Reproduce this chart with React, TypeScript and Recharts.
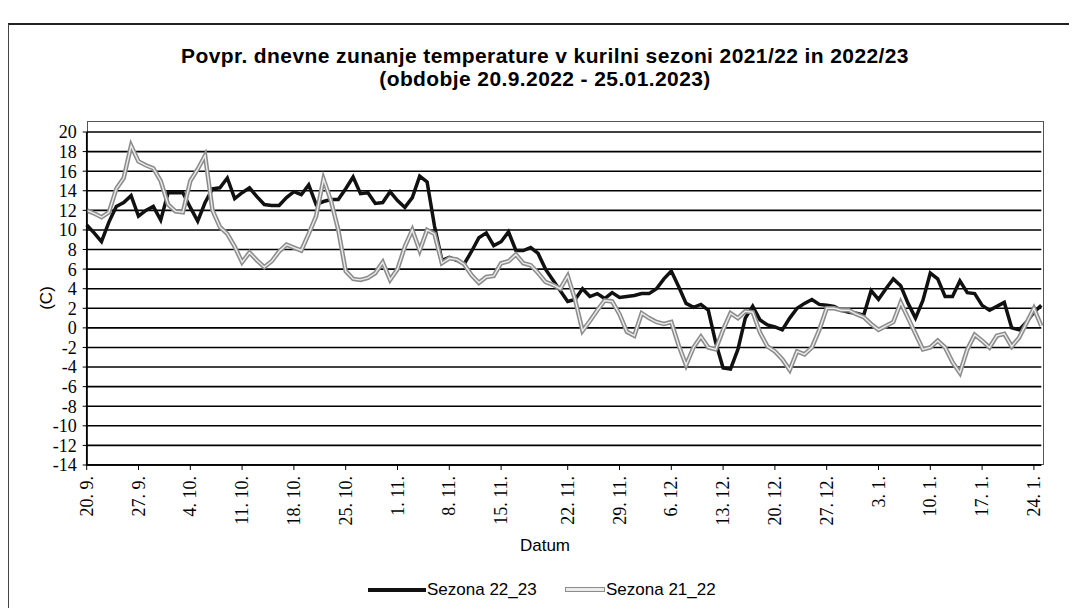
import React from "react";
import { LineChart, Line, XAxis, YAxis, CartesianGrid } from "recharts";

// Day index positions of the labelled ticks (the source has 9 slots between 15. 11. and 22. 11.)
const tickIdx = [0, 7, 14, 21, 28, 35, 42, 49, 56, 65, 72, 79, 86, 93, 100, 107, 114, 121, 128];
const tickLabels = [
  "20. 9.", "27. 9.", "4. 10.", "11. 10.", "18. 10.", "25. 10.", "1. 11.", "8. 11.", "15. 11.",
  "22. 11.", "29. 11.", "6. 12.", "13. 12.", "20. 12.", "27. 12.", "3. 1.", "10. 1.", "17. 1.", "24. 1.",
];
const yTicks = [-14, -12, -10, -8, -6, -4, -2, 0, 2, 4, 6, 8, 10, 12, 14, 16, 18, 20];

const sezona2223 = [
  10.5, 9.7, 8.8, 10.8, 12.4, 12.8, 13.5, 11.4, 12.0, 12.4,
  11.0, 13.8, 13.8, 13.8, 12.3, 10.9, 12.8, 14.2, 14.3, 15.3,
  13.2, 13.8, 14.3, 13.4, 12.6, 12.5, 12.5, 13.3, 13.9, 13.6,
  14.6, 12.6, 12.9, 13.1, 13.1, 14.2, 15.4, 13.7, 13.8, 12.7,
  12.8, 13.9, 13.0, 12.3, 13.3, 15.5, 14.9, 10.4, 6.9, 7.2,
  6.9, 6.5, 7.8, 9.2, 9.7, 8.4, 8.8, 9.8, 7.9, 7.9,
  8.2, 7.6, 6.0, 4.9, 3.8, 2.7, 2.9, 4.0, 3.2, 3.5,
  3.0, 3.6, 3.1, 3.2, 3.3, 3.5, 3.5, 4.0, 5.0, 5.8,
  4.2, 2.5, 2.1, 2.4, 1.8, -1.5, -4.1, -4.2, -2.2, 1.0,
  2.2, 0.8, 0.3, 0.1, -0.2, 1.0, 2.0, 2.5, 2.9, 2.4,
  2.3, 2.2, 1.8, 1.6, 1.5, 1.3, 3.8, 2.9, 4.0, 5.0,
  4.3, 2.5, 1.0, 2.8, 5.6, 5.0, 3.2, 3.2, 4.8, 3.6,
  3.5, 2.3, 1.8, 2.2, 2.6, 0.0, -0.2, 0.6, 1.6, 2.3,
];

const sezona2122 = [
  12.0, 11.7, 11.3, 11.8, 14.2, 15.3, 18.6, 17.0, 16.6, 16.3,
  15.0, 12.6, 11.9, 11.8, 15.0, 16.2, 17.6, 12.0, 10.3, 9.6,
  8.3, 6.7, 7.7, 6.9, 6.2, 6.8, 7.8, 8.5, 8.2, 7.9,
  9.6, 11.4, 15.2, 13.0, 10.0, 5.8, 5.0, 4.9, 5.1, 5.6,
  6.7, 4.9, 6.0, 8.3, 10.0, 7.9, 10.0, 9.6, 6.6, 7.1,
  7.0, 6.5, 5.4, 4.6, 5.2, 5.3, 6.6, 6.8, 7.5, 6.6,
  6.4, 5.6, 4.7, 4.4, 4.0, 5.3, 2.9, -0.3, 0.7, 1.8,
  2.8, 2.7, 1.4, -0.4, -0.8, 1.5, 1.0, 0.6, 0.4, 0.6,
  -1.8, -3.8, -2.0, -0.9, -2.0, -2.2, -0.2, 1.5, 1.0, 1.7,
  1.6, -0.5, -1.9, -2.4, -3.2, -4.3, -2.4, -2.7, -2.0, -0.2,
  2.0, 2.0, 1.8, 1.8, 1.4, 1.1, 0.4, -0.2, 0.2, 0.6,
  2.6, 1.0, -0.6, -2.2, -2.0, -1.3, -2.0, -3.5, -4.6, -2.2,
  -0.7, -1.3, -2.0, -0.8, -0.6, -1.9, -1.0, 0.5, 2.0, 0.2,
];

const data = sezona2223.map((v, i) => ({ i, s2223: v, s2122: sezona2122[i] }));

const serif = "'Liberation Serif', 'Times New Roman', serif";
const sans = "'Liberation Sans', Arial, sans-serif";

const XTick = (props: any) => {
  const { x, y, payload } = props;
  const k = tickIdx.indexOf(payload.value);
  const label = k >= 0 ? tickLabels[k] : "";
  return (
    <g transform={`translate(${x},${y + 4}) rotate(-90)`}>
      <text textAnchor="end" dominantBaseline="central" fontFamily={serif} fontSize={18} fill="#000">
        {label}
      </text>
    </g>
  );
};

export default function App() {
  return (
    <div style={{ position: "relative", width: 1061, height: 600, fontFamily: sans, background: "#fff" }}>
      {/* outer frame */}
      <div style={{ position: "absolute", left: 0, top: 15, width: 1061, height: 585, borderTop: "2px solid #222", borderLeft: "1px solid #444" }} />
      {/* plot area frame */}
      <div style={{ position: "absolute", left: 79, top: 113, width: 957, height: 344, border: "1px solid #555", boxSizing: "border-box" }} />
      {/* title */}
      <div style={{ position: "absolute", left: 0, top: 36, width: 1074, textAlign: "center", fontWeight: "bold", fontSize: 21, lineHeight: "23px", letterSpacing: "0.4px", color: "#000" }}>
        <div>Povpr. dnevne zunanje temperature v kurilni sezoni 2021/22 in 2022/23</div>
        <div>(obdobje 20.9.2022 - 25.01.2023)</div>
      </div>
      <LineChart
        width={1061}
        height={600}
        data={data}
        margin={{ top: 124, right: 27.7, left: 18.7, bottom: 63 }}
        style={{ position: "absolute", left: 0, top: 0 }}
      >
        <CartesianGrid horizontal={true} vertical={false} stroke="#000" strokeWidth={1.6} />
        <XAxis
          type="number"
          dataKey="i"
          domain={[0, 129]}
          ticks={tickIdx}
          interval={0}
          height={80}
          tick={<XTick />}
          tickLine={{ stroke: "#000" }}
          tickSize={5}
          axisLine={{ stroke: "#000", strokeWidth: 1.5 }}
        />
        <YAxis
          type="number"
          domain={[-14, 20]}
          ticks={yTicks}
          interval={0}
          width={60}
          tickSize={4}
          tickMargin={6}
          tickLine={{ stroke: "#000" }}
          axisLine={{ stroke: "#000", strokeWidth: 1.5 }}
          tick={{ fontFamily: serif, fontSize: 18, fill: "#000" }}
        />
        <Line type="linear" dataKey="s2223" stroke="#111" strokeWidth={3.5} dot={false} isAnimationActive={false} />
        <Line type="linear" dataKey="s2122" stroke="#8c8c8c" strokeWidth={4.5} dot={false} isAnimationActive={false} />
        <Line type="linear" dataKey="s2122" stroke="#ececec" strokeWidth={1.4} dot={false} isAnimationActive={false} />
      </LineChart>
      {/* y axis title */}
      <div style={{ position: "absolute", left: 39, top: 290, transform: "translate(-50%,-50%) rotate(-90deg)", fontSize: 17, color: "#000", whiteSpace: "nowrap" }}>(C)</div>
      {/* x axis title */}
      <div style={{ position: "absolute", left: 0, top: 528, width: 1074, textAlign: "center", fontSize: 17, lineHeight: "20px", color: "#000" }}>Datum</div>
      {/* legend */}
      <div style={{ position: "absolute", left: 360, top: 580, width: 58, height: 4, background: "#111" }} />
      <div style={{ position: "absolute", left: 419, top: 572, fontSize: 17, lineHeight: "20px", color: "#000", whiteSpace: "nowrap" }}>Sezona 22_23</div>
      <div style={{ position: "absolute", left: 557, top: 579, width: 40, height: 5, background: "#ececec", border: "1.5px solid #8c8c8c", boxSizing: "border-box" }} />
      <div style={{ position: "absolute", left: 598, top: 572, fontSize: 17, lineHeight: "20px", color: "#000", whiteSpace: "nowrap" }}>Sezona 21_22</div>
    </div>
  );
}
